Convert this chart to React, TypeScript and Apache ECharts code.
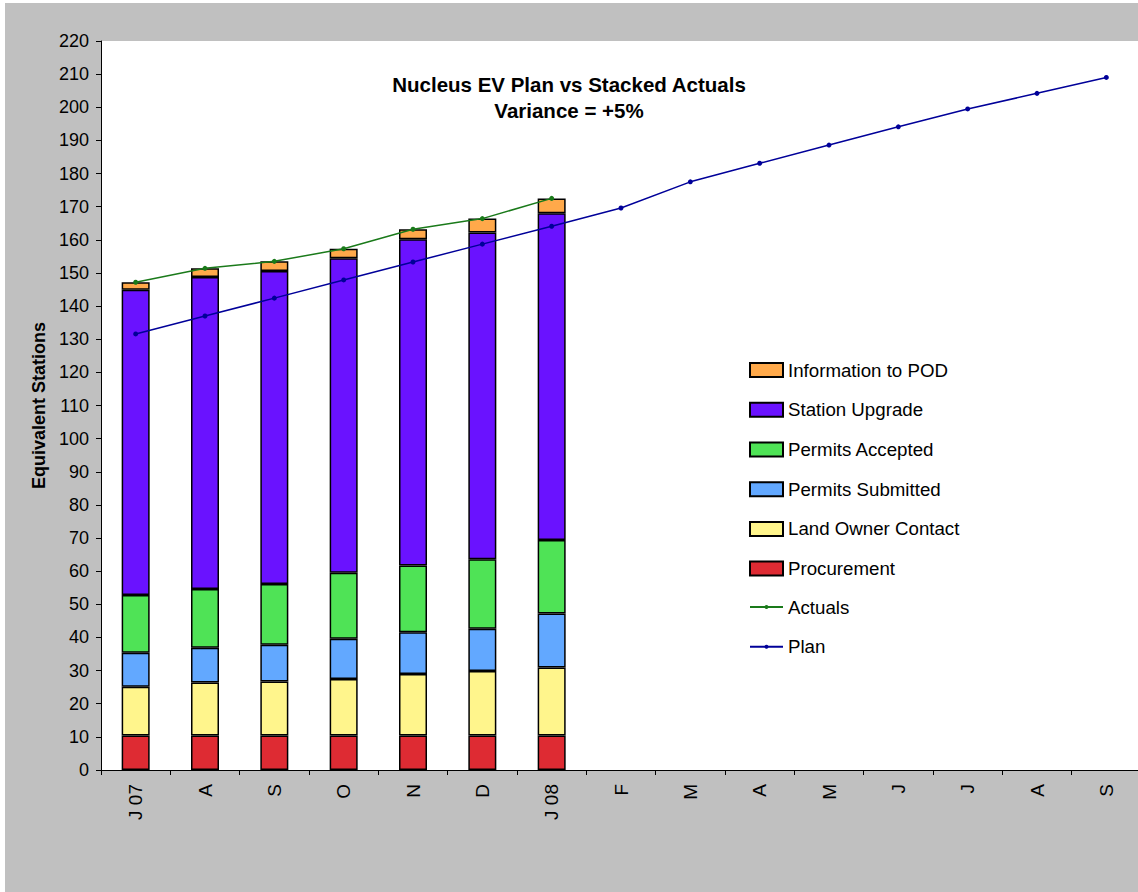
import React, { useEffect, useRef } from "react";
import * as echarts from "echarts";

const categories = ["J 07", "A", "S", "O", "N", "D", "J 08", "F", "M", "A", "M", "J", "J", "A", "S"];
const procurement = [10.4, 10.4, 10.4, 10.4, 10.4, 10.4, 10.4];
const landOwnerContact = [14.7, 16.0, 16.3, 17.1, 18.6, 19.5, 20.5];
const permitsSubmitted = [10.3, 10.5, 11.1, 12.1, 12.6, 12.7, 16.3];
const permitsAccepted = [17.4, 17.7, 18.3, 19.9, 20.1, 21.0, 22.2];
const stationUpgrade = [92.1, 94.2, 94.5, 94.9, 98.5, 98.6, 98.6];
const informationToPOD = [2.3, 2.6, 2.9, 2.9, 3.0, 4.2, 4.5];
const actuals = [147.2, 151.4, 153.5, 157.3, 163.2, 166.4, 172.5];
const plan = [131.6, 137.0, 142.4, 147.9, 153.3, 158.7, 164.1, 169.6, 177.5, 183.1, 188.6, 194.1, 199.5, 204.2, 209.0];

const FONT = "'Liberation Sans', Arial, sans-serif";
const LEGEND_FONT = 18.7;

export default function App() {
  const ref = useRef<HTMLDivElement>(null);
  useEffect(() => {
    if (!ref.current) return;
    const chart = echarts.init(ref.current, null, { renderer: "svg" });
    const bar = (name: string, data: number[], color: string) => ({
      name,
      type: "bar",
      stack: "actual",
      data,
      barWidth: 28,
      itemStyle: { color, borderColor: "#000", borderWidth: 1.5 },
    });
    const legendText = { fontFamily: FONT, fontSize: LEGEND_FONT, color: "#000" };
    chart.setOption({
      animation: false,
      backgroundColor: "#c0c0c0",
      textStyle: { fontFamily: FONT },
      title: {
        text: "Nucleus EV Plan vs Stacked Actuals\nVariance = +5%",
        left: 559,
        top: 63,
        textAlign: "center",
        textStyle: { fontFamily: FONT, fontSize: 20.5, fontWeight: "bold", color: "#000", lineHeight: 26 },
      },
      legend: [
        {
          orient: "vertical",
          left: 744,
          top: 357.6,
          padding: 0,
          itemWidth: 33,
          itemHeight: 14,
          itemGap: 20.7,
          textStyle: legendText,
          data: [
            { name: "Information to POD", icon: "rect" },
            { name: "Station Upgrade", icon: "rect" },
            { name: "Permits Accepted", icon: "rect" },
            { name: "Permits Submitted", icon: "rect" },
            { name: "Land Owner Contact", icon: "rect" },
            { name: "Procurement", icon: "rect" },
          ],
        },
        {
          orient: "vertical",
          left: 744,
          top: 594.6,
          padding: 0,
          itemWidth: 33,
          itemHeight: 5,
          itemGap: 20.7,
          textStyle: legendText,
          data: [{ name: "Actuals" }, { name: "Plan" }],
        },
      ],
      grid: {
        left: 96,
        top: 38,
        right: -3,
        bottom: 122,
        show: true,
        backgroundColor: "#ffffff",
        borderWidth: 0,
        outerBoundsMode: "none",
      },
      xAxis: {
        type: "category",
        data: categories,
        axisLine: { lineStyle: { color: "#000", width: 1 } },
        axisTick: { show: true, length: 5, interval: 0, lineStyle: { color: "#000" } },
        axisLabel: { rotate: 90, interval: 0, fontSize: 19, color: "#000", margin: 14, fontFamily: FONT },
      },
      yAxis: {
        type: "value",
        min: 0,
        max: 220,
        interval: 10,
        name: "Equivalent Stations",
        nameLocation: "middle",
        nameRotate: 90,
        nameGap: 50,
        nameTextStyle: { fontFamily: FONT, fontSize: 18, fontWeight: "bold", color: "#000" },
        splitLine: { show: false },
        axisLine: { show: true, lineStyle: { color: "#000", width: 1 } },
        axisTick: { show: true, length: 5, lineStyle: { color: "#000" } },
        axisLabel: { fontSize: 18, color: "#000", margin: 12, fontFamily: FONT },
      },
      series: [
        bar("Procurement", procurement, "#de2b33"),
        bar("Land Owner Contact", landOwnerContact, "#fff58c"),
        bar("Permits Submitted", permitsSubmitted, "#62a8ff"),
        bar("Permits Accepted", permitsAccepted, "#4fe356"),
        bar("Station Upgrade", stationUpgrade, "#6a12ff"),
        bar("Information to POD", informationToPOD, "#ffa94a"),
        {
          name: "Actuals",
          type: "line",
          data: actuals,
          symbol: "circle",
          symbolSize: 5,
          lineStyle: { color: "#1a7a1a", width: 1.5 },
          itemStyle: { color: "#1a7a1a" },
          z: 5,
        },
        {
          name: "Plan",
          type: "line",
          data: plan,
          symbol: "circle",
          symbolSize: 5,
          lineStyle: { color: "#000099", width: 1.5 },
          itemStyle: { color: "#000099" },
          z: 5,
        },
      ],
    });
    return () => chart.dispose();
  }, []);
  return (
    <div
      ref={ref}
      style={{ position: "absolute", left: 5, top: 3, width: 1133, height: 889 }}
    />
  );
}
